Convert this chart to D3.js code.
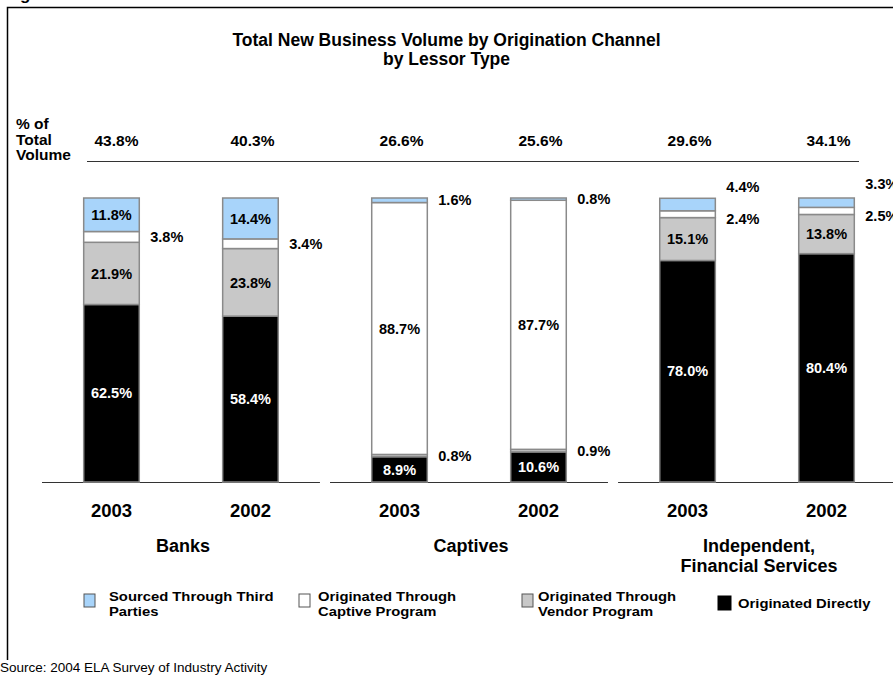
<!DOCTYPE html>
<html>
<head>
<meta charset="utf-8">
<script src="https://cdn.jsdelivr.net/npm/d3@7/dist/d3.min.js"></script>
<style>
  html, body { margin: 0; padding: 0; background: #fff; }
  svg { display: block; font-family: "Liberation Sans", Arial, Helvetica, sans-serif; }
</style>
</head>
<body>
<svg id="chart" width="893" height="675"></svg>
<script>
// ---- data ----
const lessorTypes = ["Banks", "Captives", "Independent, Financial Services"];
const lessorLines = [["Banks"], ["Captives"], ["Independent,", "Financial Services"]];
const years = ["2003", "2002"];
const shareOfTotal = [43.8, 40.3, 26.6, 25.6, 29.6, 34.1];
// channel shares per bar (Banks 2003, Banks 2002, Captives 2003, Captives 2002, Indep 2003, Indep 2002)
const originatedDirectly = [62.5, 58.4, 8.9, 10.6, 78.0, 80.4];
const vendorProgram      = [21.9, 23.8, 0.8, 0.9, 15.1, 13.8];
const captiveProgram     = [3.8, 3.4, 88.7, 87.7, 2.4, 2.5];
const thirdParties       = [11.8, 14.4, 1.6, 0.8, 4.4, 3.3];
const channelKeys = ["direct", "vendor", "captive", "third"];
const channelNames = {
  third: ["Sourced Through Third", "Parties"],
  captive: ["Originated Through", "Captive Program"],
  vendor: ["Originated Through", "Vendor Program"],
  direct: ["Originated Directly"]
};
const legendOrder = ["third", "captive", "vendor", "direct"];

// ---- styling ----
const colors = { direct: "#000000", vendor: "#c8c8c8", captive: "#ffffff", third: "#a8d4fa" };
const textColor = { direct: "#ffffff", vendor: "#000", captive: "#000", third: "#000" };

const svg = d3.select("#chart");

// rows combining lessor type and year
const rows = [];
lessorTypes.forEach((g, gi) => years.forEach((y, yi) => {
  const i = gi * years.length + yi;
  rows.push({ group: g, year: y, idx: i,
    direct: originatedDirectly[i], vendor: vendorProgram[i],
    captive: captiveProgram[i], third: thirdParties[i], share: shareOfTotal[i] });
}));

// ---- scales ----
const x0 = d3.scaleBand().domain(lessorTypes).range([42, 896]).paddingInner(0.035).paddingOuter(0);
const x1 = d3.scaleBand().domain(years).range([0, x0.bandwidth()]).paddingInner(0.6).paddingOuter(0.3);
const y = d3.scaleLinear().domain([0, 100]).range([482, 198]);
const barX = d => x0(d.group) + x1(d.year);
const barCx = d => barX(d) + x1.bandwidth() / 2;

// ---- frame ----
svg.append("path")
  .attr("d", "M7.5,660 V7.5 H900")
  .attr("fill", "none").attr("stroke", "#000").attr("stroke-width", 1.5);
svg.append("text").attr("x", 5).attr("y", -0.5)
  .attr("font-size", 17).attr("font-weight", "bold").text("Figure");

// ---- title ----
const title = svg.append("text").attr("text-anchor", "middle")
  .attr("font-size", 17.5).attr("font-weight", "bold");
title.append("tspan").attr("x", 446.5).attr("y", 46).text("Total New Business Volume by Origination Channel");
title.append("tspan").attr("x", 446.5).attr("y", 65).text("by Lessor Type");

// ---- share-of-total header ----
const hdr = svg.append("text").attr("font-size", 15.5).attr("font-weight", "bold");
["% of", "Total", "Volume"].forEach((t, i) =>
  hdr.append("tspan").attr("x", 16).attr("y", 129 + i * 15.5).text(t));
svg.append("line").attr("x1", 87).attr("x2", 859).attr("y1", 161.5).attr("y2", 161.5)
  .attr("stroke", "#333").attr("stroke-width", 1.2);
svg.selectAll("text.share").data(rows).join("text").attr("class", "share")
  .attr("x", d => barCx(d) + (d.idx === 0 ? 5 : 2)).attr("y", 145.5)
  .attr("text-anchor", "middle").attr("font-size", 15.5).attr("font-weight", "bold")
  .text(d => d.share.toFixed(1) + "%");

// ---- baselines per lessor type ----
svg.selectAll("line.base").data(lessorTypes).join("line").attr("class", "base")
  .attr("x1", d => x0(d)).attr("x2", d => x0(d) + x0.bandwidth())
  .attr("y1", y(0) + 0.5).attr("y2", y(0) + 0.5)
  .attr("stroke", "#333").attr("stroke-width", 1.2);

// ---- stacked bars ----
const stacked = d3.stack().keys(channelKeys)(rows);
const segs = [];
stacked.forEach(layer => layer.forEach(s => {
  segs.push({ key: layer.key, row: s.data, y0: s[0], y1: s[1], v: s.data[layer.key] });
}));

svg.append("g").selectAll("rect").data(segs).join("rect")
  .attr("x", d => barX(d.row)).attr("width", x1.bandwidth())
  .attr("y", d => y(d.y1)).attr("height", d => y(d.y0) - y(d.y1))
  .attr("fill", d => colors[d.key])
  .attr("stroke", "#8a8a8a").attr("stroke-width", 1.5);

// ---- value labels ----
const inside = segs.filter(d => d.v >= 5);
const outside = segs.filter(d => d.v < 5);
outside.forEach(d => { d.ly = (y(d.y0) + y(d.y1)) / 2; });
// spread outside labels that would overlap on the same bar
d3.groups(outside, d => d.row.idx).forEach(([, list]) => {
  list.sort((a, b) => b.ly - a.ly);
  for (let i = 1; i < list.length; i++) {
    if (list[i - 1].ly - list[i].ly < 30) {
      list[i - 1].ly += 5;
      list[i].ly = list[i - 1].ly - 32;
    }
  }
});

svg.append("g").selectAll("text").data(inside).join("text")
  .attr("x", d => barCx(d.row)).attr("y", d => (y(d.y0) + y(d.y1)) / 2)
  .attr("dy", "0.36em").attr("text-anchor", "middle")
  .attr("font-size", 14.5).attr("font-weight", "bold")
  .attr("fill", d => textColor[d.key])
  .text(d => d.v.toFixed(1) + "%");

svg.append("g").selectAll("text").data(outside).join("text")
  .attr("x", d => barX(d.row) + x1.bandwidth() + 11).attr("y", d => d.ly)
  .attr("dy", "0.36em").attr("font-size", 14.5).attr("font-weight", "bold")
  .text(d => d.v.toFixed(1) + "%");

// ---- year and lessor-type labels ----
svg.append("g").selectAll("text").data(rows).join("text")
  .attr("x", d => barCx(d)).attr("y", 517)
  .attr("text-anchor", "middle").attr("font-size", 18.5).attr("font-weight", "bold")
  .text(d => d.year);

lessorTypes.forEach((g, gi) => {
  const t = svg.append("text").attr("text-anchor", "middle")
    .attr("font-size", 18).attr("font-weight", "bold");
  lessorLines[gi].forEach((line, li) =>
    t.append("tspan").attr("x", x0(g) + x0.bandwidth() / 2 + 2).attr("y", 551.5 + li * 20).text(line));
});

// ---- legend ----
const swatchX = [84, 299, 522, 718];
const labelX = [109, 318, 538, 738];
legendOrder.forEach((k, i) => {
  const big = k === "direct";
  svg.append("rect").attr("x", swatchX[i]).attr("y", big ? 596 : 594)
    .attr("width", big ? 13 : 11).attr("height", big ? 14 : 13)
    .attr("fill", colors[k]).attr("stroke", big ? "#000" : "#555").attr("stroke-width", 1);
  const lines = channelNames[k];
  const startY = lines.length === 1 ? 608 : 601;
  const t = svg.append("text").attr("font-size", 13).attr("font-weight", "bold")
    .attr("transform", `translate(${labelX[i]},0) scale(1.14,1)`);
  lines.forEach((line, li) =>
    t.append("tspan").attr("x", 0).attr("y", startY + li * 15).text(line));
});

// ---- source ----
svg.append("text").attr("x", 0).attr("y", 672).attr("font-size", 13.5)
  .text("Source: 2004 ELA Survey of Industry Activity");
</script>
</body>
</html>
